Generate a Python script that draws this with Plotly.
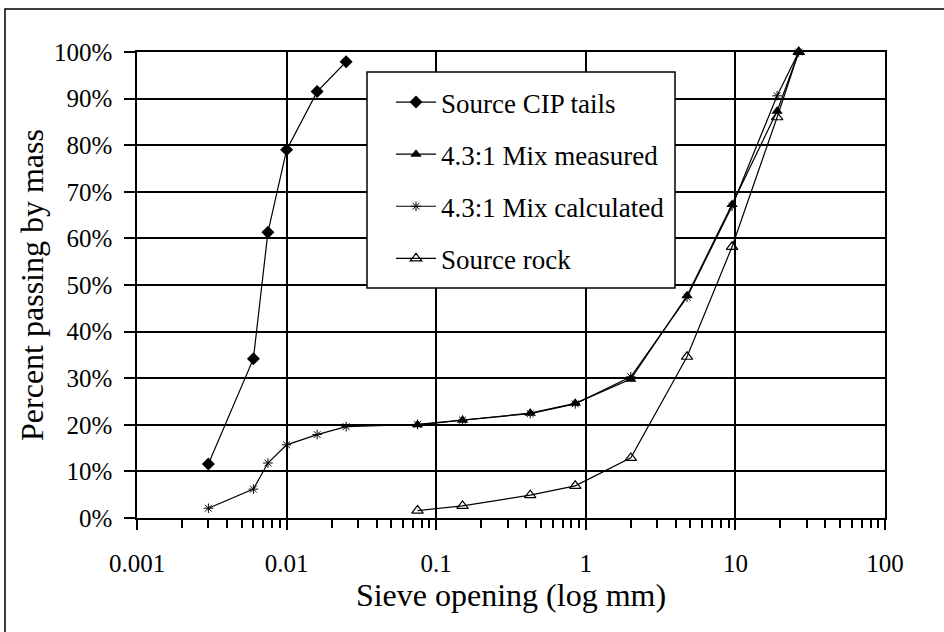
import plotly.graph_objects as go

# Sieve openings (mm)
cip_sizes = [0.003, 0.006, 0.0075, 0.01, 0.016, 0.025]
calc_sizes = [0.003, 0.006, 0.0075, 0.01, 0.016, 0.025,
              0.075, 0.15, 0.425, 0.85, 2, 4.75, 9.5, 19, 26.5]
rock_sizes = [0.075, 0.15, 0.425, 0.85, 2, 4.75, 9.5, 19, 26.5]

# Percent passing by mass
cip_tails = [11.6, 34.2, 61.3, 79.0, 91.5, 97.9]
mix_measured = [20.0, 21.0, 22.5, 24.6, 29.8, 47.7, 67.3, 87.3, 100.0]
mix_calculated = [2.1, 6.2, 11.8, 15.7, 17.9, 19.6,
                  20.1, 21.0, 22.4, 24.5, 30.3, 47.4, 66.9, 90.6, 100.0]
source_rock = [1.6, 2.6, 4.9, 6.9, 12.9, 34.6, 58.2, 86.0, 100.0]

x_tick_vals = [0.001, 0.01, 0.1, 1, 10, 100]
x_tick_text = ["0.001", "0.01", "0.1", "1", "10", "100"]
y_tick_vals = [0, 10, 20, 30, 40, 50, 60, 70, 80, 90, 100]
y_tick_text = ["0%", "10%", "20%", "30%", "40%", "50%",
               "60%", "70%", "80%", "90%", "100%"]

FONT = "Liberation Serif"
W, H = 944, 632
L, R, T, B = 137, 59, 52, 114
pw, ph = W - L - R, H - T - B


def px_x(p):
    return (p - L) / pw


def px_y(p):
    return (H - B - p) / ph


line_style = dict(color="black", width=1.2)

fig = go.Figure()
fig.add_trace(go.Scatter(
    x=cip_sizes, y=cip_tails, mode="lines+markers", name="Source CIP tails",
    legendgroup="a", line=line_style,
    marker=dict(symbol="diamond", size=10, color="black"), cliponaxis=False))
fig.add_trace(go.Scatter(
    x=rock_sizes, y=mix_measured, mode="lines+markers", name="4.3:1 Mix measured",
    legendgroup="b", line=line_style,
    marker=dict(symbol="triangle-up", size=10, color="black"), cliponaxis=False))
fig.add_trace(go.Scatter(
    x=calc_sizes, y=mix_calculated, mode="lines+markers", name="4.3:1 Mix calculated",
    legendgroup="c", line=line_style,
    marker=dict(symbol="asterisk-open", size=8, color="black",
                line=dict(color="black", width=1)), cliponaxis=False))
fig.add_trace(go.Scatter(
    x=rock_sizes, y=source_rock, mode="lines+markers", name="Source rock",
    legendgroup="d", line=line_style,
    marker=dict(symbol="triangle-up-open", size=10, color="black",
                line=dict(color="black", width=1.2)), cliponaxis=False))

minor_vals = [k * 10 ** d for d in range(-3, 2) for k in range(2, 10)]

fig.update_xaxes(
    type="log", range=[-3, 2],
    tickmode="array", tickvals=x_tick_vals, ticktext=x_tick_text,
    ticks="outside", ticklen=10, tickwidth=1.5, tickcolor="black",
    ticklabelstandoff=12,
    minor=dict(tickvals=minor_vals, ticks="outside", ticklen=8,
               tickwidth=1.5, tickcolor="black", showgrid=False),
    showgrid=True, gridcolor="black", gridwidth=1.5,
    showline=True, linecolor="black", linewidth=1.5, mirror=True,
    zeroline=False,
    tickfont=dict(family=FONT, size=25, color="black"),
    title=dict(text="Sieve opening (log mm)", standoff=8,
               font=dict(family=FONT, size=32, color="black")),
)
fig.update_yaxes(
    range=[0, 100], tickmode="array", tickvals=y_tick_vals, ticktext=y_tick_text,
    ticks="outside", ticklen=11, tickwidth=1.5, tickcolor="black",
    ticklabelstandoff=7,
    showgrid=True, gridcolor="black", gridwidth=1.5,
    showline=True, linecolor="black", linewidth=1.5, mirror=True,
    zeroline=False,
    tickfont=dict(family=FONT, size=25, color="black"),
    title=dict(text="Percent passing by mass", standoff=1,
               font=dict(family=FONT, size=32, color="black")),
)

shapes = [
    # outer chart frame
    dict(type="rect", xref="paper", yref="paper",
         x0=px_x(5), x1=px_x(960), y0=px_y(650), y1=px_y(9),
         line=dict(color="black", width=1.5), fillcolor="rgba(0,0,0,0)",
         layer="below"),
    # legend box
    dict(type="rect", xref="paper", yref="paper",
         x0=px_x(367), x1=px_x(675), y0=px_y(288), y1=px_y(72),
         line=dict(color="black", width=1.5), fillcolor="white",
         layer="above"),
]

fig.update_layout(
    width=W, height=H, autosize=False,
    margin=dict(l=L, r=R, t=T, b=B, autoexpand=False),
    paper_bgcolor="white", plot_bgcolor="white",
    font=dict(family=FONT, color="black"),
    shapes=shapes,
    showlegend=True,
    legend=dict(x=px_x(391), y=px_y(78), xanchor="left", yanchor="top",
                bgcolor="rgba(0,0,0,0)", borderwidth=0,
                font=dict(family=FONT, size=27, color="black"),
                tracegroupgap=14, itemwidth=40),
)

fig.write_html("out.html")
